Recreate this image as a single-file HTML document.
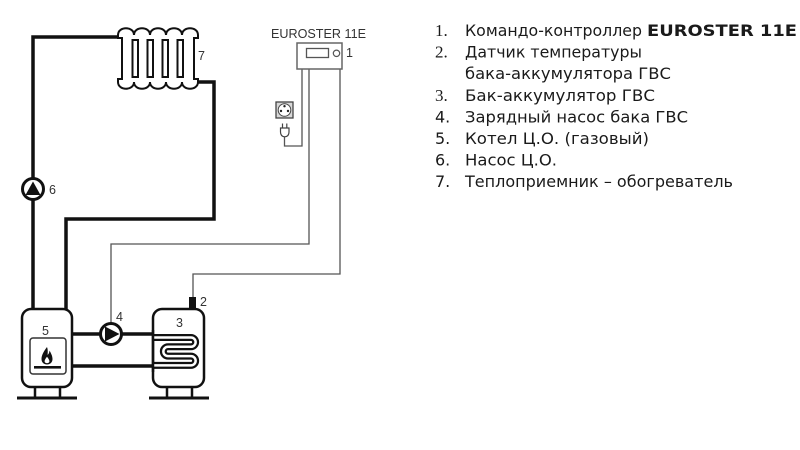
<!DOCTYPE html>
<html>
<head>
<meta charset="utf-8">
<style>
html,body{margin:0;padding:0;background:#fff;}
svg{display:block;}
</style>
</head>
<body>
<svg width="800" height="450" viewBox="0 0 800 450" xmlns="http://www.w3.org/2000/svg">
<rect width="800" height="450" fill="#fff"/>

<!-- thick heating pipes -->
<g fill="none" stroke="#111" stroke-width="3.5" stroke-linejoin="miter">
  <path d="M33,310 V37 H120"/>
  <path d="M195,82 H214 V219 H66 V310"/>
  <path d="M72,334 H156"/>
  <path d="M72,366 H156"/>
</g>

<!-- radiator -->
<path d="M118,35 c0,-9 16,-9 16,0 c0,-9 16,-9 16,0 c0,-9 16,-9 16,0 c0,-9 16,-9 16,0 c0,-9 16,-9 16,0 V38 H194 V79 H198 V82 c0,9 -16,9 -16,0 c0,9 -16,9 -16,0 c0,9 -16,9 -16,0 c0,9 -16,9 -16,0 c0,9 -16,9 -16,0 V79 H122 V38 H118 Z" fill="#fff" stroke="#111" stroke-width="2"/>
<g fill="#fff" stroke="#111" stroke-width="2">
  <rect x="132.5" y="40" width="5.5" height="37"/>
  <rect x="147.5" y="40" width="5.5" height="37"/>
  <rect x="162.5" y="40" width="5.5" height="37"/>
  <rect x="177.5" y="40" width="5.5" height="37"/>
</g>

<!-- pump 6 -->
<circle cx="33" cy="189" r="10.5" fill="#fff" stroke="#111" stroke-width="3"/>
<polygon points="33,181.5 25.5,195 40.5,195" fill="#111"/>

<!-- control wires -->
<g fill="none" stroke="#555" stroke-width="1.3">
  <path d="M302,69 V146 H284.5 V137"/>
  <path d="M309,69 V244 H111 V323"/>
  <path d="M340,69 V274 H193 V297"/>
</g>

<!-- controller -->
<rect x="297" y="43" width="45" height="26" fill="#fff" stroke="#666" stroke-width="1.5"/>
<rect x="306.5" y="48.5" width="22" height="9" fill="#fff" stroke="#555" stroke-width="1.3"/>
<circle cx="336.5" cy="53.3" r="3.2" fill="#fff" stroke="#555" stroke-width="1.2"/>

<!-- socket -->
<rect x="276" y="102" width="17" height="16" fill="#d8d8d8" stroke="#444" stroke-width="1.3"/>
<circle cx="284.5" cy="110" r="6.3" fill="#fff" stroke="#444" stroke-width="1"/>
<circle cx="284.5" cy="106.2" r="1.2" fill="#222"/>
<circle cx="281" cy="111" r="1.2" fill="#222"/>
<circle cx="288" cy="111" r="1.2" fill="#222"/>

<!-- plug -->
<g stroke="#444" stroke-width="1.2">
  <line x1="282.5" y1="123.5" x2="282.5" y2="128"/>
  <line x1="286.8" y1="123.5" x2="286.8" y2="128"/>
  <path d="M280.5,128 H289 V132 Q289,136.5 284.75,136.8 Q280.5,136.5 280.5,132 Z" fill="#fff"/>
</g>

<!-- boiler 5 -->
<rect x="22" y="309" width="50" height="78" rx="9" fill="#fff" stroke="#111" stroke-width="2.5"/>
<g stroke="#111" stroke-width="2.5">
  <line x1="35" y1="387" x2="35" y2="397"/>
  <line x1="60" y1="387" x2="60" y2="397"/>
</g>
<line x1="17" y1="398" x2="77" y2="398" stroke="#111" stroke-width="3"/>
<rect x="30" y="338" width="36" height="36" rx="3" fill="#fff" stroke="#333" stroke-width="1.5"/>
<path d="M47,347 C44,351 41.5,355 41.5,359 C41.5,362.5 44,364.5 47,364.5 C50,364.5 52.5,362.5 52.5,359 C52.5,355.5 50.5,352.5 49.5,350.5 C49.3,353 48.5,354.2 47.6,355 C47.8,352 48,349.5 47,347 Z" fill="#111"/>
<path d="M47,356.8 C45.6,358.6 44.6,360 44.6,361.3 C44.6,362.6 45.8,363.2 47,363.2 C48.2,363.2 49.4,362.6 49.4,361.3 C49.4,360 48.4,358.6 47,356.8 Z" fill="#fff"/>
<rect x="34" y="366" width="27" height="2.6" fill="#111"/>

<!-- pump 4 -->
<circle cx="111" cy="334" r="10.5" fill="#fff" stroke="#111" stroke-width="3"/>
<polygon points="105,326.5 105,341.5 119.5,334" fill="#111"/>

<!-- tank 3 -->
<rect x="153" y="309" width="51" height="78" rx="9" fill="#fff" stroke="#111" stroke-width="2.5"/>
<g stroke="#111" stroke-width="2.5">
  <line x1="167" y1="387" x2="167" y2="397"/>
  <line x1="192" y1="387" x2="192" y2="397"/>
</g>
<line x1="149" y1="398" x2="209" y2="398" stroke="#111" stroke-width="3"/>
<path d="M154,337.5 H191 A4.65,4.65 0 0 1 191,346.8 H168 A4.65,4.65 0 0 0 168,356.1 H191 A4.65,4.65 0 0 1 191,365.4 H154" fill="none" stroke="#111" stroke-width="7"/>
<path d="M154,337.5 H191 A4.65,4.65 0 0 1 191,346.8 H168 A4.65,4.65 0 0 0 168,356.1 H191 A4.65,4.65 0 0 1 191,365.4 H154" fill="none" stroke="#fff" stroke-width="2.5"/>
<line x1="153" y1="330" x2="153" y2="372" stroke="#111" stroke-width="2.5"/>

<!-- sensor 2 -->
<rect x="189" y="297" width="7" height="12" fill="#111"/>

<!-- diagram labels -->
<g font-family="'Liberation Sans', Arial, sans-serif" font-size="12.5" fill="#333">
  <text x="271" y="38" textLength="95" lengthAdjust="spacingAndGlyphs">EUROSTER 11E</text>
  <text x="346" y="57">1</text>
  <text x="198" y="60">7</text>
  <text x="49" y="194">6</text>
  <text x="116" y="321">4</text>
  <text x="200" y="306">2</text>
  <text x="176" y="327">3</text>
  <text x="42" y="335">5</text>
</g>

<!-- legend -->
<g font-family="'Liberation Serif', 'DejaVu Serif', serif" font-size="17" fill="#1a1a1a">
  <text x="435" y="36">1.</text>
  <text x="435" y="57.6">2.</text>
  <text x="435" y="100.8">3.</text>
</g>
<g font-family="'DejaVu Sans', 'Liberation Sans', sans-serif" font-size="16" fill="#1a1a1a">
  <text x="435" y="122.4">4.</text>
  <text x="435" y="144">5.</text>
  <text x="435" y="165.6">6.</text>
  <text x="435" y="187.2">7.</text>
  <text x="465" y="36" textLength="177" lengthAdjust="spacingAndGlyphs">Командо-контроллер</text>
  <text x="647" y="36" font-weight="bold" textLength="150" lengthAdjust="spacingAndGlyphs">EUROSTER 11E</text>
  <text x="465" y="57.6" textLength="177" lengthAdjust="spacingAndGlyphs">Датчик температуры</text>
  <text x="465" y="79.2" textLength="206" lengthAdjust="spacingAndGlyphs">бака-аккумулятора ГВС</text>
  <text x="465" y="100.8" textLength="190" lengthAdjust="spacingAndGlyphs">Бак-аккумулятор ГВС</text>
  <text x="465" y="122.4" textLength="223" lengthAdjust="spacingAndGlyphs">Зарядный насос бака ГВС</text>
  <text x="465" y="144" textLength="184" lengthAdjust="spacingAndGlyphs">Котел Ц.О. (газовый)</text>
  <text x="465" y="165.6" textLength="92" lengthAdjust="spacingAndGlyphs">Насос Ц.О.</text>
  <text x="465" y="187.2" textLength="268" lengthAdjust="spacingAndGlyphs">Теплоприемник – обогреватель</text>
</g>
</svg>
</body>
</html>
